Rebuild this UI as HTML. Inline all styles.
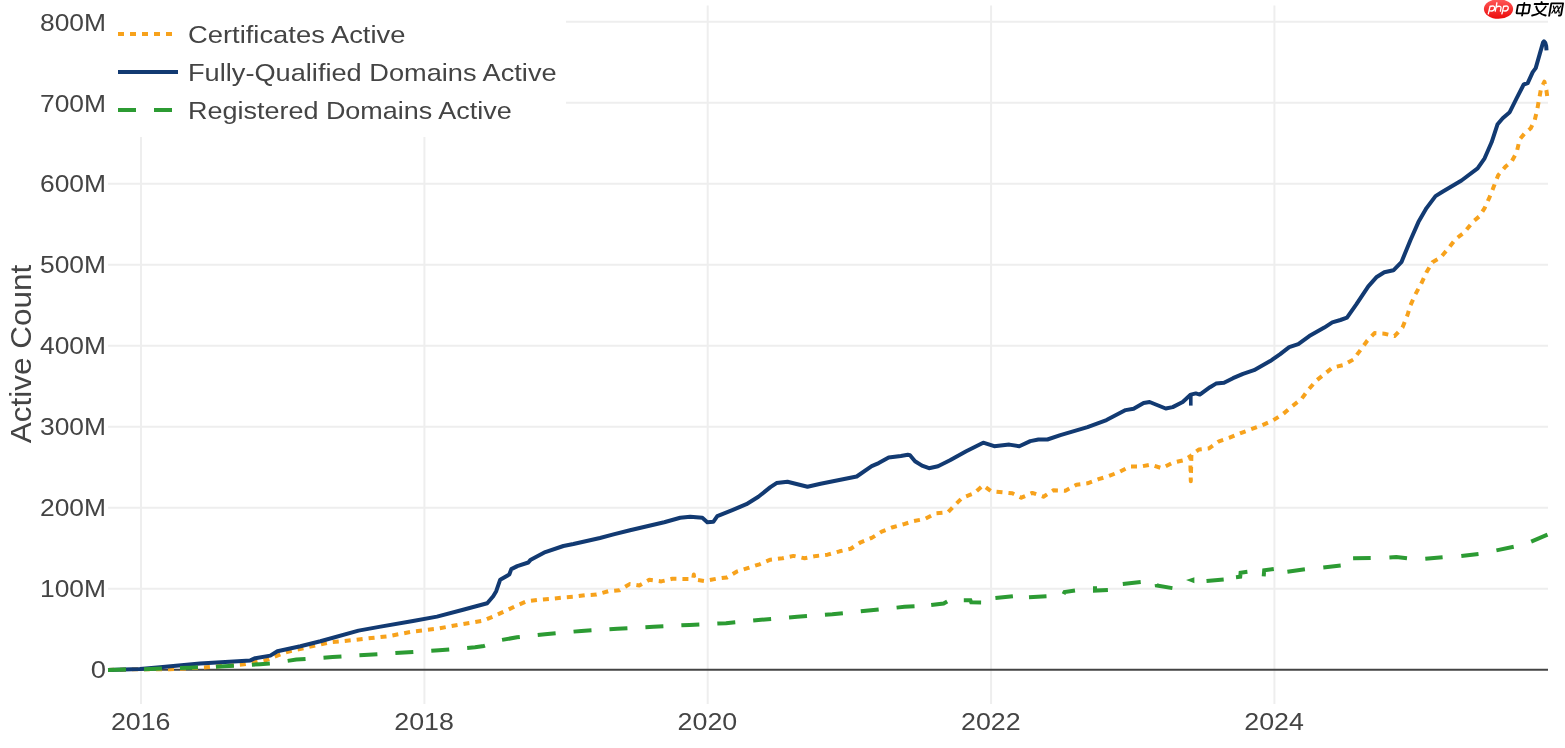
<!DOCTYPE html>
<html><head><meta charset="utf-8"><title>Active Count</title>
<style>
html,body{margin:0;padding:0;background:#fff;}
body{width:1565px;height:748px;position:relative;overflow:hidden;font-family:"Liberation Sans",sans-serif;}
</style></head><body>
<svg width="1565" height="748" viewBox="0 0 1565 748" style="display:block;position:absolute;left:0;top:0">
<rect width="1565" height="748" fill="#ffffff"/>
<line x1="141.0" y1="5.5" x2="141.0" y2="704" stroke="#eeeeee" stroke-width="2"/>
<line x1="424.4" y1="5.5" x2="424.4" y2="704" stroke="#eeeeee" stroke-width="2"/>
<line x1="707.7" y1="5.5" x2="707.7" y2="704" stroke="#eeeeee" stroke-width="2"/>
<line x1="991.1" y1="5.5" x2="991.1" y2="704" stroke="#eeeeee" stroke-width="2"/>
<line x1="1274.4" y1="5.5" x2="1274.4" y2="704" stroke="#eeeeee" stroke-width="2"/>
<line x1="108" y1="588.8" x2="1548" y2="588.8" stroke="#eeeeee" stroke-width="2"/>
<line x1="108" y1="507.8" x2="1548" y2="507.8" stroke="#eeeeee" stroke-width="2"/>
<line x1="108" y1="426.8" x2="1548" y2="426.8" stroke="#eeeeee" stroke-width="2"/>
<line x1="108" y1="345.8" x2="1548" y2="345.8" stroke="#eeeeee" stroke-width="2"/>
<line x1="108" y1="264.8" x2="1548" y2="264.8" stroke="#eeeeee" stroke-width="2"/>
<line x1="108" y1="183.8" x2="1548" y2="183.8" stroke="#eeeeee" stroke-width="2"/>
<line x1="108" y1="102.8" x2="1548" y2="102.8" stroke="#eeeeee" stroke-width="2"/>
<line x1="108" y1="21.8" x2="1548" y2="21.8" stroke="#eeeeee" stroke-width="2"/>
<line x1="108" y1="669.8" x2="1548" y2="669.8" stroke="#444" stroke-width="2"/>
<path d="M108.0,669.9 L140.0,669.2 L170.0,669.3 L206.0,667.3 L242.0,664.6 L266.0,660.2 L276.0,656.2 L286.0,652.2 L308.0,647.2 L330.5,642.2 L342.5,641.2 L364.5,638.8 L388.6,636.2 L413.0,631.5 L437.0,628.7 L459.0,624.7 L483.0,620.8 L493.0,616.6 L505.0,611.2 L516.0,605.8 L527.0,601.2 L538.0,599.8 L551.0,598.8 L562.4,597.6 L573.4,596.8 L585.5,595.2 L596.5,594.6 L608.5,591.2 L619.5,590.2 L629.6,584.1 L639.3,585.5 L649.3,579.8 L661.3,581.4 L672.3,578.8 L684.0,578.9 L693.2,579.0 L693.8,574.5 L694.4,579.5 L704.5,581.0 L716.0,578.8 L727.0,577.4 L737.4,571.3 L748.4,567.9 L759.4,564.3 L770.4,559.7 L782.5,558.3 L793.5,555.9 L804.5,558.3 L816.6,555.9 L827.6,554.7 L839.6,551.3 L850.7,548.7 L860.7,542.3 L871.7,537.9 L881.7,531.6 L892.8,527.2 L903.4,524.3 L914.0,521.0 L925.0,518.9 L936.0,513.3 L948.0,512.3 L955.0,504.9 L962.2,497.9 L974.2,493.3 L983.2,485.3 L991.2,491.3 L1002.3,492.3 L1012.3,493.3 L1021.3,497.7 L1032.3,492.9 L1043.4,496.7 L1053.4,490.3 L1065.4,490.7 L1076.5,484.7 L1087.5,483.3 L1098.5,479.2 L1108.5,476.2 L1119.6,471.8 L1129.6,466.6 L1140.6,466.6 L1150.7,464.6 L1161.7,468.2 L1172.7,462.8 L1183.7,460.2 L1190.2,456.2 L1190.8,481.2 L1191.4,455.0 L1198.8,449.6 L1209.0,448.4 L1219.0,441.3 L1229.0,437.9 L1240.0,433.3 L1251.0,429.3 L1262.0,425.3 L1273.2,420.3 L1283.2,413.9 L1292.2,406.2 L1301.3,399.2 L1308.3,389.8 L1316.3,380.6 L1324.3,374.2 L1332.3,367.7 L1343.4,365.1 L1353.4,359.5 L1360.4,350.1 L1367.4,340.5 L1374.5,333.1 L1384.5,333.7 L1394.5,336.1 L1402.5,327.6 L1407.5,315.0 L1410.4,305.4 L1415.4,294.3 L1421.4,283.3 L1426.5,272.3 L1432.5,262.2 L1440.5,257.6 L1448.5,248.2 L1455.5,239.2 L1464.5,232.2 L1472.6,222.1 L1479.6,216.1 L1484.6,208.1 L1489.6,197.1 L1493.6,187.0 L1498.2,175.2 L1505.7,166.4 L1511.7,161.3 L1516.7,152.3 L1519.7,139.3 L1524.7,133.3 L1530.7,128.3 L1534.7,120.2 L1537.1,110.2 L1539.1,99.2 L1541.1,88.2 L1544.4,81.7 L1546.4,90.2 L1547.2,96.2" fill="none" stroke="#f7a21c" stroke-width="4" stroke-dasharray="6,6" stroke-linejoin="round"/>
<path d="M108.0,669.9 L140.0,668.9 L160.0,667.3 L200.0,663.6 L250.3,660.4 L255.3,658.2 L270.3,655.6 L277.4,651.2 L300.4,646.2 L320.4,641.2 L358.5,630.6 L380.6,626.6 L413.0,621.0 L437.0,616.6 L463.1,609.8 L487.2,603.2 L493.2,596.2 L496.2,591.2 L500.2,579.7 L509.3,574.5 L511.3,569.1 L517.3,566.1 L528.3,562.5 L530.3,560.1 L545.3,552.1 L563.4,546.0 L573.4,544.0 L600.0,538.0 L613.5,534.4 L630.0,530.2 L664.2,522.2 L680.2,517.8 L690.2,516.8 L702.3,517.8 L707.3,522.2 L713.3,521.8 L717.3,516.2 L732.3,510.2 L746.4,504.2 L758.4,496.7 L770.4,487.1 L776.5,483.1 L787.5,481.7 L807.5,486.7 L820.6,483.7 L856.7,476.5 L871.7,466.1 L878.7,463.1 L888.7,457.6 L900.8,456.0 L907.8,454.8 L910.0,455.2 L915.0,461.2 L922.0,465.6 L929.0,468.2 L938.0,466.2 L950.0,460.2 L966.2,451.2 L983.2,442.7 L994.2,446.2 L1009.3,444.6 L1019.3,446.2 L1030.3,441.1 L1038.4,439.5 L1047.4,439.5 L1060.4,435.1 L1087.5,427.1 L1106.5,420.1 L1125.6,410.1 L1133.6,408.7 L1143.6,403.0 L1149.6,402.0 L1165.7,408.5 L1172.7,407.1 L1182.7,402.0 L1190.8,394.6 L1195.8,393.4 L1199.8,394.6 L1210.0,387.2 L1216.0,383.6 L1224.0,382.8 L1233.0,378.2 L1243.0,373.8 L1254.0,370.2 L1270.2,361.1 L1280.2,354.1 L1289.2,347.1 L1298.3,344.1 L1309.3,336.1 L1324.3,327.6 L1332.3,322.4 L1340.4,320.0 L1347.0,317.6 L1356.3,304.4 L1368.3,286.3 L1376.3,277.3 L1384.3,272.3 L1393.4,270.3 L1401.4,262.2 L1410.4,240.2 L1418.4,222.1 L1426.5,208.1 L1435.5,196.1 L1442.5,191.7 L1461.5,180.5 L1477.6,168.4 L1484.6,158.3 L1491.6,142.3 L1497.6,124.2 L1502.7,118.2 L1509.7,112.2 L1516.7,98.2 L1523.7,84.5 L1527.7,83.1 L1532.7,72.1 L1535.7,68.1 L1539.7,54.1 L1543.0,42.6 L1544.0,41.4 L1545.2,42.6 L1546.2,46.0 L1546.5,50.3" fill="none" stroke="#123a72" stroke-width="4" stroke-linejoin="round"/>
<path d="M108.0,669.9 L150.0,669.0 L190.0,667.7 L224.0,666.3 L260.0,664.2 L270.0,663.5 L296.4,659.6 L332.5,657.0 L368.5,654.8 L413.0,652.0 L439.0,650.3 L475.0,647.3 L484.0,645.9 L502.0,639.9 L517.0,637.3 L545.0,634.3 L581.4,630.9 L617.5,628.7 L653.6,626.7 L689.7,624.9 L726.0,623.2 L761.0,619.8 L797.2,616.8 L832.3,614.2 L868.4,610.6 L904.5,606.8 L926.0,605.7" fill="none" stroke="#2c9b33" stroke-width="4" stroke-dasharray="18,18" stroke-linejoin="round"/>
<g fill="none" stroke="#2c9b33" stroke-width="4" stroke-linejoin="miter">
<path d="M931.2,605.0 L943.6,603.5 L947.2,601.5"/>
<path d="M963.8,600.3 L970.4,600.3 L971.2,602.2 L981.1,602.4"/>
<path d="M995.4,598.0 L1012.9,596.2"/>
<path d="M1029.0,597.3 L1046.5,596.3"/>
<path d="M1063.6,594.2 L1064.6,592.0 L1075.0,590.4"/>
<path d="M1095.0,586.2 L1095.0,590.6 L1107.9,590.0"/>
<path d="M1122.8,584.0 L1140.7,582.1"/>
<path d="M1156.6,584.0 L1156.8,585.5 L1172.4,588.1"/>
<path d="M1206.5,581.0 L1223.7,579.5"/>
<path d="M1236.0,577.2 L1240.2,576.7 L1240.6,572.7 L1247.4,571.8"/>
<path d="M1263.7,576.3 L1264.2,570.2 L1273.8,568.9"/>
<path d="M1287.4,571.8 L1304.9,569.3"/>
<path d="M1323.3,567.4 L1340.7,565.5"/>
<path d="M1353.1,558.3 L1370.7,558.0"/>
<path d="M1389.4,557.5 L1396.3,557.1 L1407.0,558.3"/>
<path d="M1425.3,558.7 L1442.6,557.2"/>
<path d="M1461.3,555.9 L1478.5,554.0"/>
<path d="M1496.4,550.4 L1513.7,546.8"/>
<path d="M1531.2,541.6 L1547.5,534.7"/>
</g>
<path d="M1186.0,579.9 L1194.4,577.2 L1194.4,583.2 Z" fill="#2c9b33"/>
<line x1="1190.8" y1="394" x2="1190.8" y2="405.6" stroke="#123a72" stroke-width="3.6"/>
<rect x="108" y="0" width="458" height="137" fill="#ffffff"/>
<line x1="118" y1="34" x2="178" y2="34" stroke="#f7a21c" stroke-width="4" stroke-dasharray="6,6"/>
<line x1="118" y1="72" x2="178" y2="72" stroke="#123a72" stroke-width="4"/>
<line x1="118" y1="110" x2="178" y2="110" stroke="#2c9b33" stroke-width="4" stroke-dasharray="18,18"/>
<g font-family="Liberation Sans, sans-serif" style="filter:grayscale(1)">
<text x="188" y="42.5" font-size="24.4" text-anchor="start" textLength="217.4" lengthAdjust="spacingAndGlyphs" fill="#444444">Certificates Active</text>
<text x="188" y="80.5" font-size="24.4" text-anchor="start" textLength="368.6" lengthAdjust="spacingAndGlyphs" fill="#444444">Fully-Qualified Domains Active</text>
<text x="188" y="118.5" font-size="24.4" text-anchor="start" textLength="323.7" lengthAdjust="spacingAndGlyphs" fill="#444444">Registered Domains Active</text>
<text x="106" y="677.7" font-size="24.4" text-anchor="end" textLength="15.26" lengthAdjust="spacingAndGlyphs" fill="#444444">0</text>
<text x="106" y="596.8" font-size="24.4" text-anchor="end" textLength="66" lengthAdjust="spacingAndGlyphs" fill="#444444">100M</text>
<text x="106" y="515.9" font-size="24.4" text-anchor="end" textLength="66" lengthAdjust="spacingAndGlyphs" fill="#444444">200M</text>
<text x="106" y="435.1" font-size="24.4" text-anchor="end" textLength="66" lengthAdjust="spacingAndGlyphs" fill="#444444">300M</text>
<text x="106" y="354.2" font-size="24.4" text-anchor="end" textLength="66" lengthAdjust="spacingAndGlyphs" fill="#444444">400M</text>
<text x="106" y="273.3" font-size="24.4" text-anchor="end" textLength="66" lengthAdjust="spacingAndGlyphs" fill="#444444">500M</text>
<text x="106" y="192.4" font-size="24.4" text-anchor="end" textLength="66" lengthAdjust="spacingAndGlyphs" fill="#444444">600M</text>
<text x="106" y="111.6" font-size="24.4" text-anchor="end" textLength="66" lengthAdjust="spacingAndGlyphs" fill="#444444">700M</text>
<text x="106" y="30.7" font-size="24.4" text-anchor="end" textLength="66" lengthAdjust="spacingAndGlyphs" fill="#444444">800M</text>
<text x="140.7" y="730.4" font-size="24.4" text-anchor="middle" textLength="59.6" lengthAdjust="spacingAndGlyphs" fill="#444444">2016</text>
<text x="424.1" y="730.4" font-size="24.4" text-anchor="middle" textLength="59.6" lengthAdjust="spacingAndGlyphs" fill="#444444">2018</text>
<text x="707.4" y="730.4" font-size="24.4" text-anchor="middle" textLength="59.6" lengthAdjust="spacingAndGlyphs" fill="#444444">2020</text>
<text x="990.8" y="730.4" font-size="24.4" text-anchor="middle" textLength="59.6" lengthAdjust="spacingAndGlyphs" fill="#444444">2022</text>
<text x="1274.1" y="730.4" font-size="24.4" text-anchor="middle" textLength="59.6" lengthAdjust="spacingAndGlyphs" fill="#444444">2024</text>
<text transform="translate(31,354) rotate(-90)" font-size="29.4" text-anchor="middle" textLength="178.6" lengthAdjust="spacingAndGlyphs" fill="#444444">Active Count</text>
</g>
<defs><linearGradient id="rg" x1="0" y1="0" x2="0" y2="1"><stop offset="0" stop-color="#ff5a5a"/><stop offset="1" stop-color="#ec0a0a"/></linearGradient></defs>
<ellipse cx="1498.5" cy="9" rx="14.6" ry="9.8" fill="url(#rg)"/>
<g fill="none" stroke="#fff" stroke-width="1.35" stroke-linecap="round" stroke-linejoin="round">
<path d="M1490.1,6.1 L1488.3,13.8 M1489.9,6.9 Q1490.6,6.0 1492.6,6.0 Q1495.0,6.0 1494.6,8.4 Q1494.2,11.0 1491.6,11.0 Q1489.6,11.0 1489.2,10.6"/>
<path d="M1496.9,2.8 L1495.2,11.2 M1496.2,7.4 Q1497.2,6.2 1499.0,6.2 Q1501.4,6.2 1501.0,8.2 L1500.4,11.2"/>
<path d="M1503.7,6.1 L1501.9,13.8 M1503.5,6.9 Q1504.2,6.0 1506.2,6.0 Q1508.6,6.0 1508.2,8.4 Q1507.8,11.0 1505.2,11.0 Q1503.2,11.0 1502.8,10.6"/>
</g>
<g fill="none" stroke="#000" stroke-width="1.85" stroke-linecap="round" stroke-linejoin="round" transform="translate(1515,2) skewX(-10)">
<path d="M4.2,2.8 Q3.5,2.8 3.5,3.6 V10.6 Q3.5,11.4 4.3,11.4 H14.7 Q15.5,11.4 15.5,10.6 V3.6 Q15.5,2.8 14.7,2.8 Z M9.5,1 V13.6"/>
<path d="M20,2 H33.5 M26.5,0 L27.3,1.8 M22,4.5 Q25,12 33,13.5 M31.5,4.5 Q28.5,12 19.5,13.5"/>
<path d="M36.6,13.8 V1.3 H48.3 V12.4 Q48.3,13.7 46.3,13.5"/><path stroke-width="1.25" d="M39.2,4.2 L42,11 M42.2,4.2 L38.8,11 M43.4,4.2 L46.2,11 M46.4,4.2 L43,11"/>
</g>
</svg>
</body></html>
